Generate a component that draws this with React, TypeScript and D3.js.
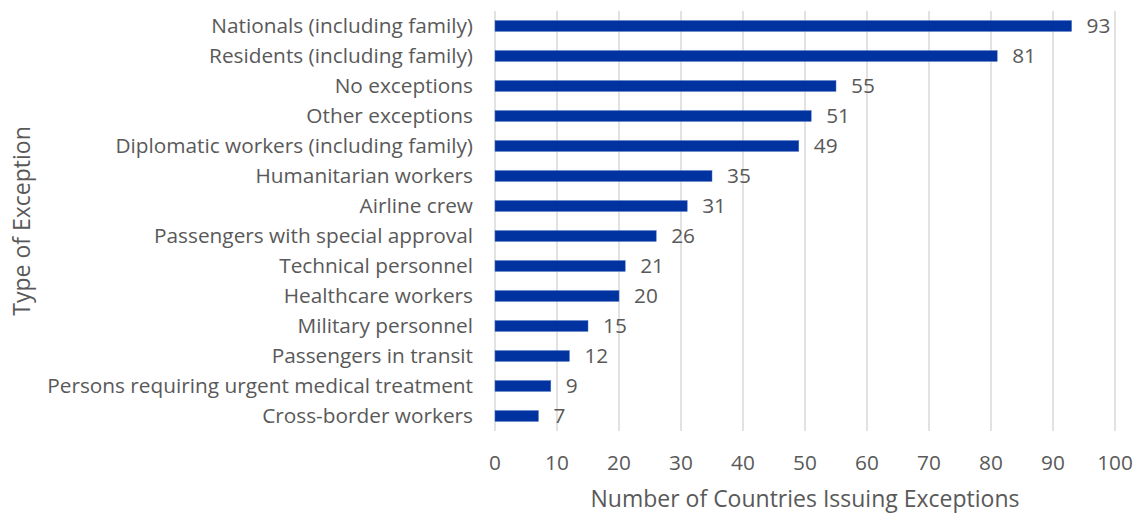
import React from "react";
import * as d3 from "d3";

const categories = [
  "Nationals (including family)",
  "Residents (including family)",
  "No exceptions",
  "Other exceptions",
  "Diplomatic workers (including family)",
  "Humanitarian workers",
  "Airline crew",
  "Passengers with special approval",
  "Technical personnel",
  "Healthcare workers",
  "Military personnel",
  "Passengers in transit",
  "Persons requiring urgent medical treatment",
  "Cross-border workers",
];
const values = [93, 81, 55, 51, 49, 35, 31, 26, 21, 20, 15, 12, 9, 7];
const xTicks = [0, 10, 20, 30, 40, 50, 60, 70, 80, 90, 100];
const xTitle = "Number of Countries Issuing Exceptions";
const yTitle = "Type of Exception";

const W = 1134;
const H = 513;
const FONT = "'Open Sans', sans-serif";
const TEXT = "#595959";

export default function App() {
  const x = d3.scaleLinear().domain([0, 100]).range([495, 1115]);
  const y = d3.scaleBand<string>().domain(categories).range([11, 431]).paddingInner(0.64).paddingOuter(0.32);
  return (
    <svg width={W} height={H} style={{ position: "absolute", left: 0, top: 0, background: "#fff" }}>
      <g>
        {xTicks.map((t) => (
          <line key={t} x1={x(t)} x2={x(t)} y1={11} y2={431} stroke="#d9d9d9" strokeWidth={1.5} />
        ))}
      </g>
      <g>
        {categories.map((c, i) => (
          <rect key={c} x={x(0)} y={y(c)!} width={x(values[i]) - x(0)} height={y.bandwidth()} fill="#0033a0" stroke="#4a6fc0" strokeWidth={0.5} />
        ))}
      </g>
      <g fontFamily={FONT} fontSize={20.8} fill={TEXT}>
        {categories.map((c, i) => (
          <text key={c} x={x(values[i]) + 15} y={y(c)! + y.bandwidth() / 2} dy="0.35em">
            {values[i]}
          </text>
        ))}
        {categories.map((c) => (
          <text key={c} x={473} y={y(c)! + y.bandwidth() / 2} dy="0.35em" textAnchor="end">
            {c}
          </text>
        ))}
        {xTicks.map((t) => (
          <text key={t} x={x(t)} y={463} dy="0.35em" textAnchor="middle">
            {t}
          </text>
        ))}
        <text x={805} y={499} dy="0.35em" textAnchor="middle" fontSize={23}>
          {xTitle}
        </text>
        <text transform={`translate(22,221) rotate(-90)`} dy="0.35em" textAnchor="middle" fontSize={23}>
          {yTitle}
        </text>
      </g>
    </svg>
  );
}
